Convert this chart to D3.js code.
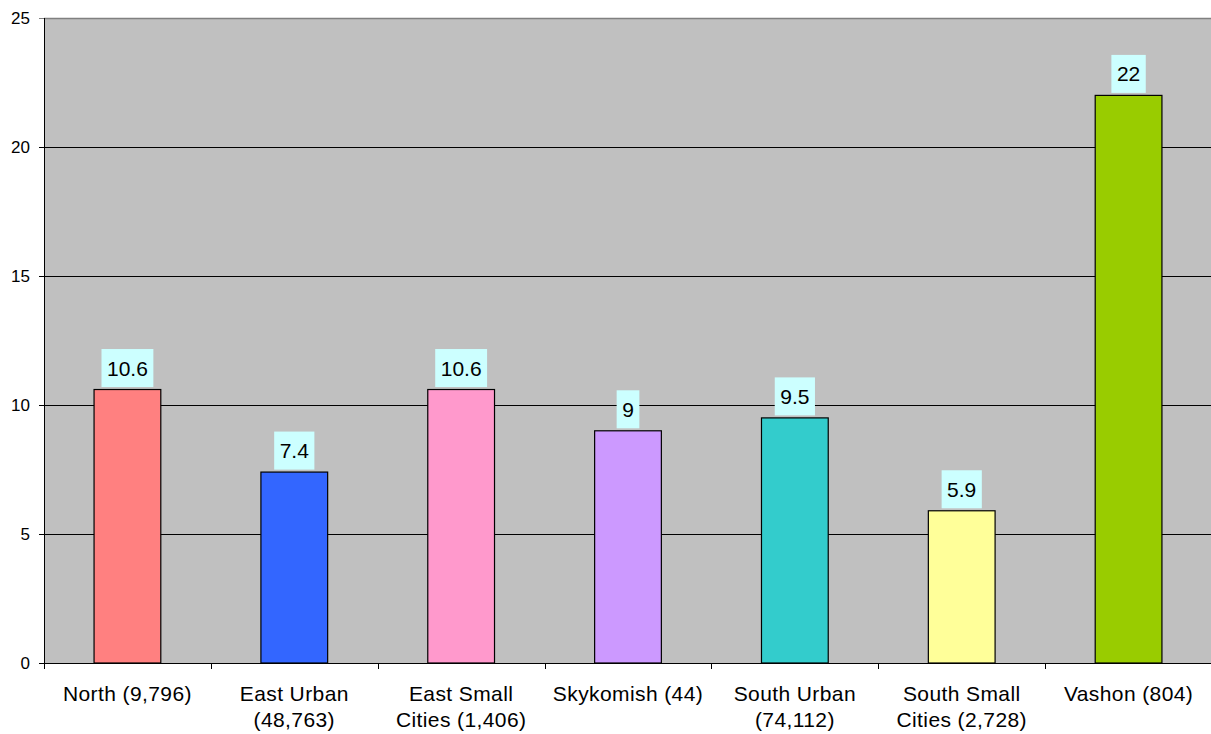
<!DOCTYPE html>
<html>
<head>
<meta charset="utf-8">
<script src="https://cdn.jsdelivr.net/npm/d3@7"></script>
<style>
  body { margin: 0; background: #fff; }
  text { font-family: Arial, "Liberation Sans", sans-serif; fill: #000; }
</style>
</head>
<body>
<svg id="chart" width="1211" height="734"></svg>
<script>
// data
const categories = [
  ["North (9,796)"],
  ["East Urban", "(48,763)"],
  ["East Small", "Cities (1,406)"],
  ["Skykomish (44)"],
  ["South Urban", "(74,112)"],
  ["South Small", "Cities (2,728)"],
  ["Vashon (804)"]
];
const values = [10.6, 7.4, 10.6, 9, 9.5, 5.9, 22];
const valueLabels = ["10.6", "7.4", "10.6", "9", "9.5", "5.9", "22"];
const barColors = ["#FF8080", "#3366FF", "#FF99CC", "#CC99FF", "#33CCCC", "#FFFF99", "#99CC00"];
const yTicks = [0, 5, 10, 15, 20, 25];

const plotLeft = 44, plotRight = 1212, plotTop = 18, plotBottom = 663;
const svg = d3.select("#chart");

const x = d3.scaleBand()
  .domain(d3.range(categories.length))
  .range([plotLeft, plotRight])
  .paddingInner(0.6)
  .paddingOuter(0.3);
const step = (plotRight - plotLeft) / categories.length;

const y = d3.scaleLinear().domain([0, 25]).range([plotBottom, plotTop]);

// plot background
svg.append("rect")
  .attr("x", plotLeft).attr("y", plotTop)
  .attr("width", plotRight - plotLeft).attr("height", plotBottom - plotTop)
  .attr("fill", "#C0C0C0");

// gridlines
svg.append("g").selectAll("line")
  .data(yTicks.filter(d => d > 0))
  .enter().append("line")
  .attr("x1", plotLeft).attr("x2", plotRight)
  .attr("y1", d => Math.round(y(d)) + 0.5)
  .attr("y2", d => Math.round(y(d)) + 0.5)
  .attr("stroke", d => d === 25 ? "#808080" : "#000")
  .attr("stroke-width", d => d === 25 ? 1.5 : 1);

// bars
svg.append("g").selectAll("rect")
  .data(values)
  .enter().append("rect")
  .attr("x", (d, i) => x(i))
  .attr("y", d => y(d))
  .attr("width", x.bandwidth())
  .attr("height", d => plotBottom - y(d))
  .attr("fill", (d, i) => barColors[i])
  .attr("stroke", "#000")
  .attr("stroke-width", 1.2);

// y axis
const yAxis = svg.append("g");
yAxis.append("line")
  .attr("x1", plotLeft + 0.5).attr("x2", plotLeft + 0.5)
  .attr("y1", plotTop).attr("y2", plotBottom + 6)
  .attr("stroke", "#000");
yAxis.selectAll("line.tick")
  .data(yTicks)
  .enter().append("line")
  .attr("class", "tick")
  .attr("x1", plotLeft - 5).attr("x2", plotLeft)
  .attr("y1", d => Math.round(y(d)) + 0.5)
  .attr("y2", d => Math.round(y(d)) + 0.5)
  .attr("stroke", d => d === 25 ? "#808080" : "#000");
yAxis.selectAll("text")
  .data(yTicks)
  .enter().append("text")
  .attr("x", plotLeft - 14)
  .attr("y", d => y(d))
  .attr("dy", "0.35em")
  .attr("text-anchor", "end")
  .attr("font-size", 17)
  .text(d => d);

// x axis
const xAxis = svg.append("g");
xAxis.append("line")
  .attr("x1", plotLeft).attr("x2", plotRight)
  .attr("y1", plotBottom + 0.5).attr("y2", plotBottom + 0.5)
  .attr("stroke", "#000");
xAxis.selectAll("line.tick")
  .data(d3.range(1, categories.length))
  .enter().append("line")
  .attr("class", "tick")
  .attr("x1", d => Math.round(plotLeft + d * step) + 0.5)
  .attr("x2", d => Math.round(plotLeft + d * step) + 0.5)
  .attr("y1", plotBottom).attr("y2", plotBottom + 6)
  .attr("stroke", "#000");
xAxis.selectAll("text")
  .data(categories)
  .enter().append("text")
  .attr("font-size", 21)
  .attr("letter-spacing", 0.4)
  .attr("text-anchor", "middle")
  .each(function (lines, i) {
    const t = d3.select(this);
    lines.forEach((ln, j) => {
      t.append("tspan")
        .attr("x", x(i) + x.bandwidth() / 2)
        .attr("y", 701 + j * 26)
        .text(ln);
    });
  });

// value labels
const labels = svg.append("g").selectAll("g")
  .data(values)
  .enter().append("g");
labels.each(function (d, i) {
  const g = d3.select(this);
  const cx = x(i) + x.bandwidth() / 2;
  const bTop = y(d) - 2.5;
  const rect = g.append("rect").attr("fill", "#CCFFFF");
  const t = g.append("text")
    .attr("x", cx)
    .attr("y", bTop - 11.5)
    .attr("text-anchor", "middle")
    .attr("font-size", 21)
    .text(valueLabels[i]);
  const w = t.node().getComputedTextLength() + 11;
  rect.attr("x", cx - w / 2).attr("y", bTop - 38)
    .attr("width", w).attr("height", 38);
});
</script>
</body>
</html>
